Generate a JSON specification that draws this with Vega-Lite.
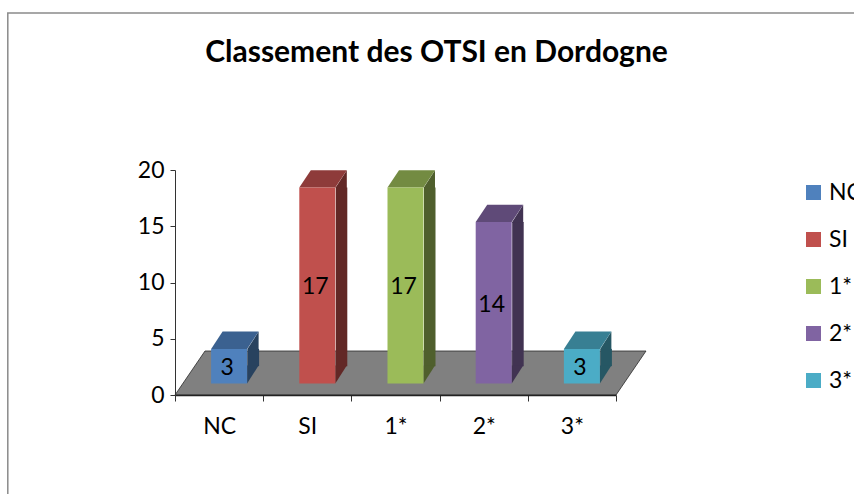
{
"$schema":"https://vega.github.io/schema/vega-lite/v6.json",
"width":441,"height":225,
"autosize":{"type":"none"},
"padding":{"left":175,"top":170,"right":238,"bottom":99},
"background":"white",
"config":{"view":{"stroke":null},"font":"Lato"},
"title":{"text":"Classement des OTSI en Dordogne","font":"Lato","fontSize":30,"fontWeight":"bold","color":"#000000","anchor":"middle","dx":41,"offset":-58},
"data":{"values":[
{"cat":"NC","value":3},
{"cat":"SI","value":17},
{"cat":"1*","value":17},
{"cat":"2*","value":14},
{"cat":"3*","value":3}
]},
"encoding":{"x":{"field":"cat","type":"nominal","title":null,"scale":{"domain":["NC","SI","1*","2*","3*"],"paddingInner":0,"paddingOuter":0},
"axis":{"zindex":1,"labelAngle":0,"labelFontSize":23,"labelColor":"#000000","labelPadding":14,"labelFont":"Lato","tickSize":6,"tickColor":"#333333","domainColor":"#222222","domainWidth":1.5,"tickBand":"extent","grid":false}}},
"layer":[
{"data":{"values":[{"part":"frame"}]},
 "mark":{"type":"point","shape":"M-211.3,330L-211.3,-157L650,-157","size":4,"filled":false,"stroke":"#8a8a8a","strokeWidth":1.5,"opacity":1},
 "encoding":{"x":{"datum":"NC","type":"nominal","title":null,"scale":{"domain":["NC","SI","1*","2*","3*"],"paddingInner":0,"paddingOuter":0},"axis":{"zindex":1,"labelAngle":0,"labelFontSize":23,"labelColor":"#000000","labelPadding":14,"labelFont":"Lato","tickSize":6,"tickColor":"#333333","domainColor":"#222222","domainWidth":1.5,"tickBand":"extent","grid":false}},"y":{"datum":20,"type":"quantitative","scale":{"domain":[0,20]},"axis":null}}},
{"data":{"values":[{"part":"floor"}]},
 "mark":{"type":"point","shape":"M-44.1,0L396.9,0L426.9,-44L-14.1,-44Z","size":4,"filled":true,"fill":"#808080","stroke":"#2a2a2a","strokeWidth":0.8,"opacity":1},
 "encoding":{"x":{"datum":"NC","type":"nominal","title":null,"scale":{"domain":["NC","SI","1*","2*","3*"],"paddingInner":0,"paddingOuter":0},"axis":{"zindex":1,"labelAngle":0,"labelFontSize":23,"labelColor":"#000000","labelPadding":14,"labelFont":"Lato","tickSize":6,"tickColor":"#333333","domainColor":"#222222","domainWidth":1.5,"tickBand":"extent","grid":false}},
 "y":{"datum":0,"type":"quantitative","title":null,"scale":{"domain":[0,20]},"axis":{"values":[0,5,10,15,20],"labelFontSize":23,"labelColor":"#000000","labelFont":"Lato","labelPadding":6,"tickSize":5,"tickColor":"#333333","domainColor":"#333333","grid":false,"zindex":1}}}},
{"mark":{"type":"bar","width":11.5,"xOffset":34.25,"opacity":1,"y2Offset":-17.3},
 "encoding":{"y":{"field":"value","type":"quantitative","scale":{"domain":[-1,18.52]},"axis":null},"y2":{"datum":0},
 "color":{"field":"cat","type":"nominal","legend":null,"scale":{"domain":["NC","SI","1*","2*","3*"],"range":["#28425F","#622826","#4F5F2D","#413352","#265764"]}}}},
{"mark":{"type":"point","shape":"M28,0.6L39.5,-17.3L39.5,0.6Z","size":4,"filled":true,"opacity":1},
 "encoding":{"y":{"field":"value","type":"quantitative","scale":{"domain":[-1,18.52]},"axis":null},
 "color":{"field":"cat","type":"nominal","legend":null,"scale":{"domain":["NC","SI","1*","2*","3*"],"range":["#28425F","#622826","#4F5F2D","#413352","#265764"]}}}},
{"mark":{"type":"point","shape":"M28,-17.9L39.5,-17.9L28,0Z","size":4,"filled":true,"opacity":1},
 "encoding":{"y":{"datum":0,"type":"quantitative","scale":{"domain":[-1,18.52]},"axis":null},
 "color":{"field":"cat","type":"nominal","legend":null,"scale":{"domain":["NC","SI","1*","2*","3*"],"range":["#28425F","#622826","#4F5F2D","#413352","#265764"]}}}},
{"mark":{"type":"point","shape":"M-8,0L28,0L39.5,-17.3L3.5,-17.3Z","size":4,"filled":true,"opacity":1},
 "encoding":{"y":{"field":"value","type":"quantitative","scale":{"domain":[-1,18.52]},"axis":null},
 "color":{"field":"cat","type":"nominal","legend":null,"scale":{"domain":["NC","SI","1*","2*","3*"],"range":["#3B6190","#8E3B3A","#738B42","#5F4A78","#387F93"]}}}},
{"mark":{"type":"bar","width":36,"xOffset":10,"opacity":1},
 "encoding":{"y":{"field":"value","type":"quantitative","scale":{"domain":[-1,18.52]},"axis":null},"y2":{"datum":0},
 "color":{"field":"cat","type":"nominal","scale":{"domain":["NC","SI","1*","2*","3*"],"range":["#4F81BD","#C0504D","#9BBB59","#8064A2","#4BACC6"]},
 "legend":{"title":null,"orient":"none","legendX":627,"legendY":11,"symbolType":"square","symbolSize":225,"symbolStrokeWidth":0,"symbolOpacity":1,"labelFontSize":23,"labelFont":"Lato","labelColor":"#000000","labelOffset":4,"rowPadding":23,"labelLimit":200}}}},
{"mark":{"type":"text","fontSize":23,"font":"Lato","color":"#000000","baseline":"middle","dx":8,"dy":2},
 "encoding":{"y":{"field":"value","type":"quantitative","scale":{"domain":[-2,37.04]},"axis":null},"text":{"field":"value","type":"quantitative"}}}
],
"resolve":{"scale":{"y":"independent","color":"independent"},"axis":{"y":"independent"}}
}
